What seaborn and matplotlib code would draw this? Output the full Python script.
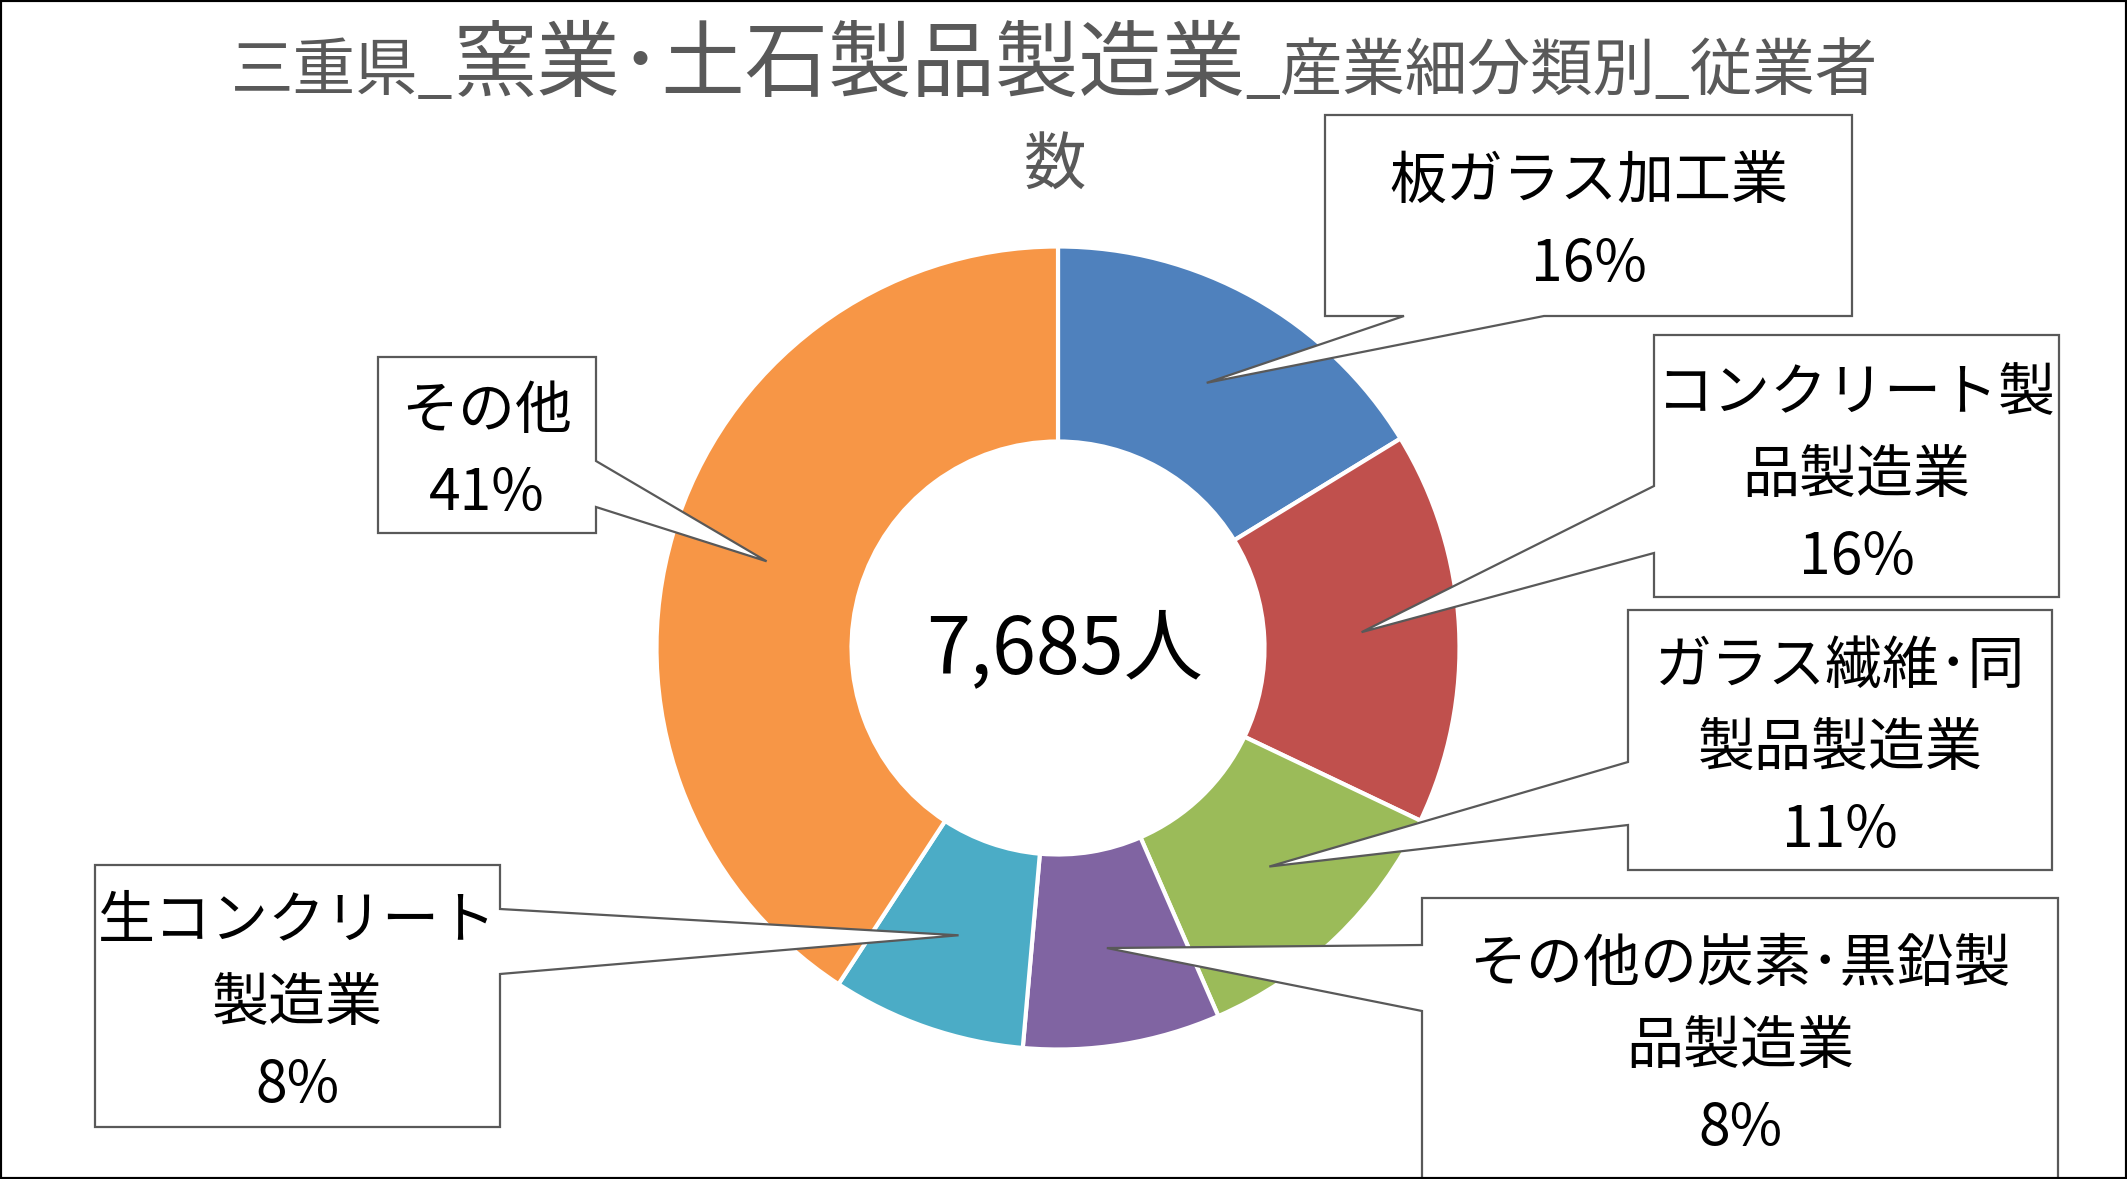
#%%
import numpy as np
import matplotlib
matplotlib.use('Agg')
import matplotlib.pyplot as plt
from matplotlib.patches import Polygon, Rectangle
import seaborn as sns

sns.set_theme(style='white')
plt.rcParams['font.family'] = ['Noto Sans CJK JP', 'DejaVu Sans']

#%%
# 従業者数 (7,685人)
labels = ['板ガラス加工業', 'コンクリート製\n品製造業', 'ガラス繊維･同\n製品製造業',
          'その他の炭素･黒鉛製\n品製造業', '生コンクリート\n製造業', 'その他']
values = [1250, 1215, 875, 610, 600, 3135]
colors = ['#4F81BD', '#C0504D', '#9BBB59', '#8064A2', '#4BACC6', '#F79646']
title_parts = [('三重県_', 45), ('窯業･土石製品製造業', 60), ('_産業細分類別_従業者', 45)]
title_line2 = '数'
total = sum(values)
center_label = f'{total:,}人'

#%%
W, H = 2127, 1179
fig = plt.figure(figsize=(W / 100, H / 100), dpi=100)
ax = fig.add_axes([0, 0, 1, 1])

cx, cy = 1058, H - 648
R = 401.5
ring = 195
wedges, _ = ax.pie(values, colors=colors, startangle=90, counterclock=False,
                   radius=R, center=(cx, cy),
                   wedgeprops=dict(width=ring, edgecolor='white', linewidth=3))
ax.set_xlim(0, W)
ax.set_ylim(0, H)
ax.set_aspect('equal')
ax.axis('off')

ax.text(cx + 6, cy - 3, center_label, ha='center', va='center', fontsize=57, color='black')

# callout boxes: L, T, R, B (pixels from top), pointer side and base span, first line y
boxes = [
    (1325, 115, 1852, 316, 'bottom', (1404, 1544), 183),
    (1654, 335, 2059, 597, 'left', (486, 553), 394),
    (1628, 610, 2052, 870, 'left', (762, 825), 667),
    (1422, 898, 2058, 1190, 'left', (945, 1011), 965),
    (95, 865, 500, 1127, 'right', (909, 974), 922),
    (378, 357, 596, 533, 'right', (461, 507), 412),
]

r_mid = R - ring / 2
ang = 90.0
for i, (v, lab) in enumerate(zip(values, labels)):
    span = 360.0 * v / total
    mid = np.deg2rad(ang - span / 2)
    ang -= span
    tip = (cx + r_mid * np.cos(mid), cy + r_mid * np.sin(mid))
    L, T, Rr, B, side, (a, b), y0 = boxes[i]
    T, B = H - T, H - B
    if side == 'bottom':
        pts = [(L, B), (a, B), tip, (b, B), (Rr, B), (Rr, T), (L, T)]
    elif side == 'right':
        a, b = H - a, H - b
        pts = [(L, B), (Rr, B), (Rr, b), tip, (Rr, a), (Rr, T), (L, T)]
    else:
        a, b = H - a, H - b
        pts = [(L, B), (Rr, B), (Rr, T), (L, T), (L, a), tip, (L, b)]
    ax.add_patch(Polygon(pts, closed=True, facecolor='white', edgecolor='#595959',
                         linewidth=1.6, zorder=3))
    lines = lab.split('\n') + [f'{round(v / total * 100)}%']
    xc = (L + Rr) / 2
    for k, s in enumerate(lines):
        ax.text(xc, H - (y0 + 82 * k), s, ha='center', va='center',
                fontsize=41, color='black', zorder=4)

# title with mixed font sizes
renderer = fig.canvas.get_renderer()
x = 231
for s, size in title_parts:
    t = ax.text(x, H - 90, s, ha='left', va='baseline', fontsize=size, color='#595959')
    x += t.get_window_extent(renderer).width
ax.text(1055, H - 185, title_line2, ha='center', va='baseline', fontsize=45, color='#595959')

fig.add_artist(Rectangle((0, 0), 1, 1, transform=fig.transFigure, fill=False,
                         edgecolor='black', linewidth=3))

fig.savefig('out.png', dpi=100)
